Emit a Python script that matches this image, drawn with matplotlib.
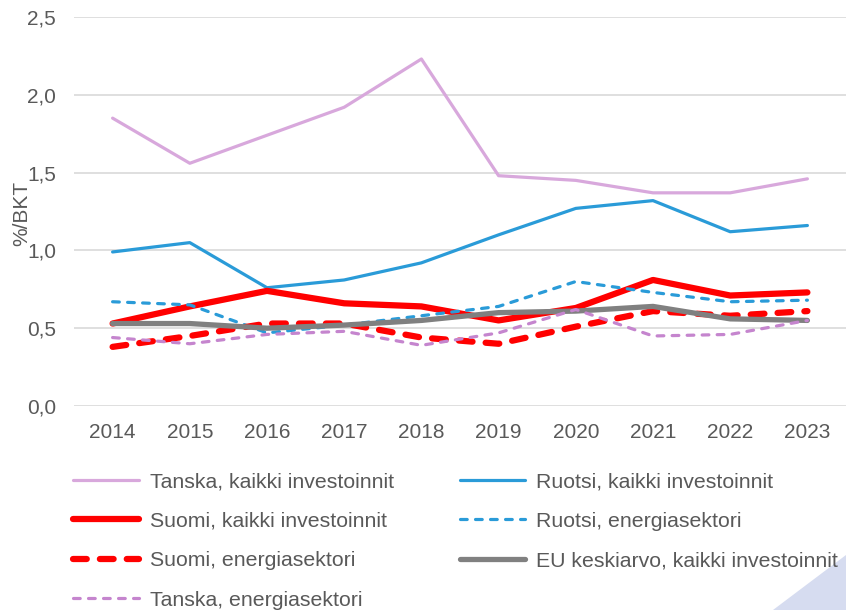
import matplotlib
matplotlib.use("Agg")
import matplotlib.pyplot as plt
from matplotlib.patches import Polygon
from matplotlib.ticker import FuncFormatter

plt.rcParams['font.family'] = ['Liberation Sans', 'DejaVu Sans']

years = [2014, 2015, 2016, 2017, 2018, 2019, 2020, 2021, 2022, 2023]

tanska_kaikki = [1.85, 1.56, 1.74, 1.92, 2.23, 1.48, 1.45, 1.37, 1.37, 1.46]
ruotsi_kaikki = [0.99, 1.05, 0.76, 0.81, 0.92, 1.10, 1.27, 1.32, 1.12, 1.16]
suomi_kaikki = [0.53, 0.64, 0.74, 0.66, 0.64, 0.55, 0.63, 0.81, 0.71, 0.73]
ruotsi_energia = [0.67, 0.65, 0.47, 0.52, 0.58, 0.64, 0.80, 0.73, 0.67, 0.68]
suomi_energia = [0.38, 0.45, 0.53, 0.53, 0.44, 0.40, 0.51, 0.61, 0.58, 0.61]
eu_kaikki = [0.53, 0.53, 0.50, 0.52, 0.55, 0.60, 0.61, 0.64, 0.56, 0.55]
tanska_energia = [0.44, 0.40, 0.46, 0.48, 0.39, 0.47, 0.62, 0.45, 0.46, 0.55]

GREY_TEXT = '#595959'
FS = 15
LEG_FS = 15.3

fig = plt.figure(figsize=(8.46, 6.1), dpi=100)
ax = fig.add_axes([74 / 846, 1 - 406 / 610, 772 / 846, 389 / 610])

x = list(range(len(years)))

series = [
    (tanska_kaikki, 'Tanska, kaikki investoinnit', dict(color='#D8A8DC', lw=2.3)),
    (ruotsi_kaikki, 'Ruotsi, kaikki investoinnit', dict(color='#2A9BD8', lw=2.3)),
    (suomi_kaikki, 'Suomi, kaikki investoinnit', dict(color='#FF0000', lw=4.5)),
    (ruotsi_energia, 'Ruotsi, energiasektori', dict(color='#2A9BD8', lw=2.3, ls=(0, (2.1, 2.6)), dash_capstyle='round')),
    (suomi_energia, 'Suomi, energiasektori', dict(color='#FF0000', lw=4.5, ls=(0, (2.2, 2.1)), dash_capstyle='round')),
    (eu_kaikki, 'EU keskiarvo, kaikki investoinnit', dict(color='#808080', lw=3.8)),
    (tanska_energia, 'Tanska, energiasektori', dict(color='#C585CE', lw=2.3, ls=(0, (2.1, 2.6)), dash_capstyle='round')),
]

lines = {}
for vals, label, style in series:
    ln, = ax.plot(x, vals, label=label, solid_capstyle='round', **style)
    lines[label] = ln

ax.set_xlim(-0.5, len(years) - 0.5)
ax.set_ylim(0, 2.5)
ax.set_yticks([0, 0.5, 1.0, 1.5, 2.0, 2.5])
ax.yaxis.set_major_formatter(FuncFormatter(lambda v, p: f'{v:.1f}'.replace('.', ',')))
ax.set_xticks(x)
ax.set_xticklabels([str(y) for y in years])
ax.grid(axis='y', color='#D9D9D9', lw=1.2)
ax.set_axisbelow(True)
for s in ax.spines.values():
    s.set_visible(False)
ax.tick_params(axis='both', length=0, labelsize=FS, colors=GREY_TEXT)
ax.tick_params(axis='y', pad=13)
ax.tick_params(axis='x', pad=12)

fig.text(22 / 846, 1 - 213 / 610, '%/BKT', rotation=90, ha='center', va='center',
         fontsize=FS, color=GREY_TEXT)

# legend filled column by column, so reorder to match the row layout
order = ['Tanska, kaikki investoinnit', 'Suomi, kaikki investoinnit',
         'Suomi, energiasektori', 'Tanska, energiasektori',
         'Ruotsi, kaikki investoinnit', 'Ruotsi, energiasektori',
         'EU keskiarvo, kaikki investoinnit']
leg = fig.legend([lines[k] for k in order], order, ncol=2, frameon=False,
                 loc='upper left', bbox_to_anchor=(73 / 846, 1 - 472 / 610),
                 borderpad=0, borderaxespad=0, fontsize=LEG_FS, handlelength=3.1,
                 handletextpad=0.5, columnspacing=3.1, labelspacing=0.97)
for t in leg.get_texts():
    t.set_color(GREY_TEXT)

# decorative corner triangle
fig.patches.append(Polygon([(846 / 846, 1 - 555 / 610), (1, 0), (773 / 846, 0)],
                           closed=True, transform=fig.transFigure,
                           facecolor='#D6DCF0', edgecolor='none', zorder=-1))

fig.savefig('out.png', dpi=100)
